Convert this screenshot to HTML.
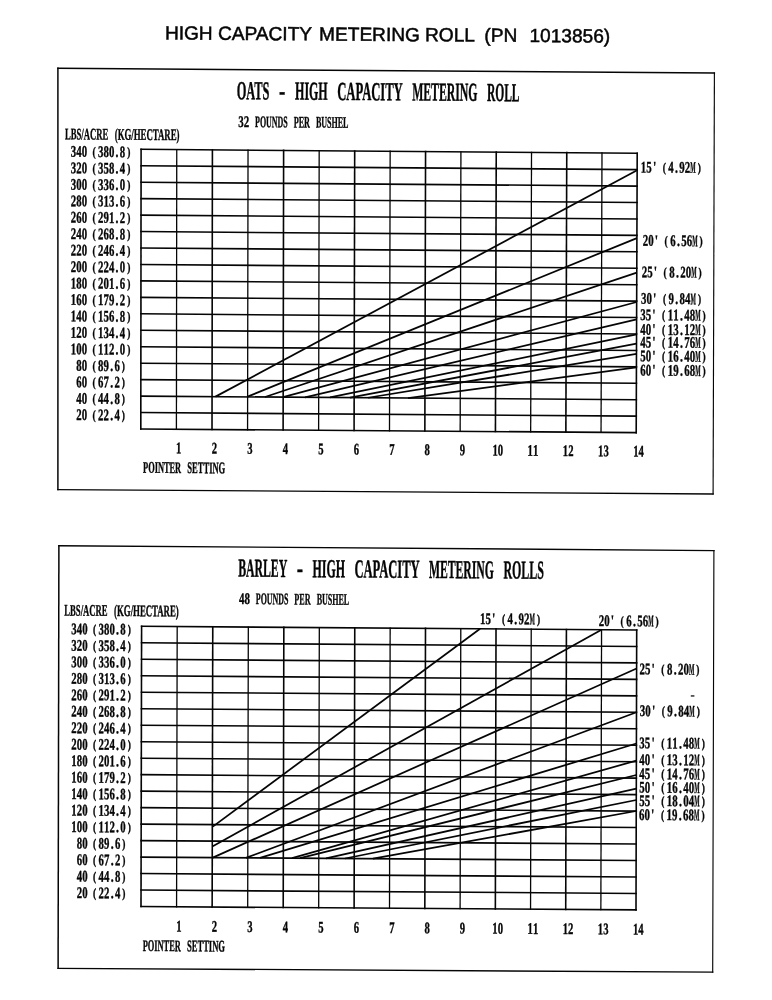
<!DOCTYPE html>
<html lang="en"><head><meta charset="utf-8"><title>High Capacity Metering Roll (PN 1013856)</title>
<style>html,body{margin:0;padding:0;background:#fff}body{width:772px;height:1000px;overflow:hidden}svg{display:block}text{white-space:pre}</style>
</head><body>
<svg width="772" height="1000" viewBox="0 0 772 1000">
<rect width="772" height="1000" fill="#fff"/>
<text transform="translate(164.90 39.40) rotate(0.413)" y="0" font-family='"Liberation Sans", sans-serif' font-size="19.1" fill="#050505" stroke="#050505" stroke-width="0.5" xml:space="preserve"><tspan x="0.00">HIGH </tspan><tspan x="53.10">CAPACITY </tspan><tspan x="154.20">METERING </tspan><tspan x="260.20">ROLL  </tspan><tspan x="319.40">(PN  </tspan><tspan x="364.60">1013856)</tspan></text>
<g stroke="#050505" fill="none" stroke-linecap="square" stroke-linejoin="miter">
<line x1="57.90" y1="68.25" x2="714.40" y2="73.05" stroke-width="1.40"/>
<line x1="714.40" y1="73.05" x2="713.10" y2="494.00" stroke-width="1.15"/>
<line x1="713.10" y1="494.00" x2="57.90" y2="489.60" stroke-width="1.30"/>
<line x1="57.90" y1="489.60" x2="57.90" y2="68.25" stroke-width="1.50"/>
<line x1="141.10" y1="149.30" x2="140.80" y2="429.00" stroke-width="1.60"/>
<line x1="176.76" y1="149.58" x2="176.41" y2="429.26" stroke-width="1.30"/>
<line x1="212.41" y1="149.86" x2="212.01" y2="429.51" stroke-width="1.60"/>
<line x1="248.03" y1="150.14" x2="247.58" y2="429.77" stroke-width="1.30"/>
<line x1="283.62" y1="150.41" x2="283.12" y2="430.03" stroke-width="1.60"/>
<line x1="319.18" y1="150.69" x2="318.63" y2="430.29" stroke-width="1.30"/>
<line x1="354.69" y1="150.97" x2="354.09" y2="430.54" stroke-width="1.60"/>
<line x1="390.15" y1="151.25" x2="389.50" y2="430.80" stroke-width="1.30"/>
<line x1="425.56" y1="151.53" x2="424.86" y2="431.06" stroke-width="1.60"/>
<line x1="460.92" y1="151.81" x2="460.17" y2="431.31" stroke-width="1.30"/>
<line x1="496.24" y1="152.09" x2="495.44" y2="431.57" stroke-width="1.60"/>
<line x1="531.52" y1="152.36" x2="530.67" y2="431.83" stroke-width="1.30"/>
<line x1="566.76" y1="152.64" x2="565.86" y2="432.09" stroke-width="1.60"/>
<line x1="601.99" y1="152.92" x2="601.04" y2="432.34" stroke-width="1.30"/>
<line x1="637.20" y1="153.20" x2="636.20" y2="432.60" stroke-width="1.60"/>
<line x1="140.80" y1="429.00" x2="636.20" y2="432.60" stroke-width="1.60"/>
<line x1="140.82" y1="412.55" x2="636.26" y2="416.16" stroke-width="1.60"/>
<line x1="140.84" y1="396.09" x2="636.32" y2="399.73" stroke-width="1.60"/>
<line x1="140.85" y1="379.64" x2="636.38" y2="383.29" stroke-width="1.60"/>
<line x1="140.87" y1="363.19" x2="636.44" y2="366.86" stroke-width="1.60"/>
<line x1="140.89" y1="346.74" x2="636.49" y2="350.42" stroke-width="1.60"/>
<line x1="140.91" y1="330.28" x2="636.55" y2="333.99" stroke-width="1.60"/>
<line x1="140.92" y1="313.83" x2="636.61" y2="317.55" stroke-width="1.60"/>
<line x1="140.94" y1="297.38" x2="636.67" y2="301.12" stroke-width="1.60"/>
<line x1="140.96" y1="280.92" x2="636.73" y2="284.68" stroke-width="1.60"/>
<line x1="140.98" y1="264.47" x2="636.79" y2="268.25" stroke-width="1.60"/>
<line x1="140.99" y1="248.02" x2="636.85" y2="251.81" stroke-width="1.60"/>
<line x1="141.01" y1="231.56" x2="636.91" y2="235.38" stroke-width="1.60"/>
<line x1="141.03" y1="215.11" x2="636.96" y2="218.94" stroke-width="1.60"/>
<line x1="141.05" y1="198.66" x2="637.02" y2="202.51" stroke-width="1.60"/>
<line x1="141.06" y1="182.21" x2="637.08" y2="186.07" stroke-width="1.60"/>
<line x1="141.08" y1="165.75" x2="637.14" y2="169.64" stroke-width="1.60"/>
<line x1="141.10" y1="149.30" x2="637.20" y2="153.20" stroke-width="1.60"/>
</g>
<g stroke="#050505" fill="none" stroke-linecap="butt">
<line x1="215.50" y1="396.64" x2="637.10" y2="170.30" stroke-width="1.75"/>
<line x1="247.00" y1="396.87" x2="636.90" y2="238.10" stroke-width="1.75"/>
<line x1="265.00" y1="397.01" x2="636.80" y2="272.60" stroke-width="1.75"/>
<line x1="283.00" y1="397.14" x2="636.70" y2="302.00" stroke-width="1.75"/>
<line x1="305.00" y1="397.30" x2="636.60" y2="319.40" stroke-width="1.75"/>
<line x1="330.00" y1="397.48" x2="636.60" y2="334.30" stroke-width="1.75"/>
<line x1="350.00" y1="397.63" x2="636.50" y2="343.70" stroke-width="1.75"/>
<line x1="368.00" y1="397.76" x2="636.50" y2="353.80" stroke-width="1.75"/>
<line x1="408.00" y1="398.05" x2="636.40" y2="367.30" stroke-width="1.75"/>
</g>
<g fill="#050505" stroke="#050505" stroke-width="0.38" stroke-linejoin="round" font-family='"Liberation Serif", serif'>
<g stroke-width="0.45">
<text transform="translate(236.30 99.20) rotate(0.413)" y="0" font-size="26.00" font-weight="bold"><tspan x="0.42" textLength="32.53" lengthAdjust="spacingAndGlyphs">OATS</tspan> <tspan x="42.75" textLength="6.23" lengthAdjust="spacingAndGlyphs">-</tspan> <tspan x="58.80" textLength="32.53" lengthAdjust="spacingAndGlyphs">HIGH</tspan> <tspan x="100.91" textLength="65.05" lengthAdjust="spacingAndGlyphs">CAPACITY</tspan> <tspan x="175.97" textLength="65.05" lengthAdjust="spacingAndGlyphs">METERING</tspan> <tspan x="250.62" textLength="32.53" lengthAdjust="spacingAndGlyphs">ROLL</tspan></text>
</g>
<text transform="translate(238.20 127.00) rotate(0.413)" y="0" font-size="16.20" font-weight="bold"><tspan x="0.11" textLength="10.84" lengthAdjust="spacingAndGlyphs">32</tspan> <tspan x="16.92" textLength="32.52" lengthAdjust="spacingAndGlyphs">POUNDS</tspan> <tspan x="55.47" textLength="16.26" lengthAdjust="spacingAndGlyphs">PER</tspan> <tspan x="77.75" textLength="32.52" lengthAdjust="spacingAndGlyphs">BUSHEL</tspan></text>
<text transform="translate(64.60 139.30) rotate(0.413)" y="0" font-size="16.20" font-weight="bold"><tspan x="0.44" textLength="43.12" lengthAdjust="spacingAndGlyphs">LBS/ACRE</tspan> <tspan x="50.16" textLength="64.68" lengthAdjust="spacingAndGlyphs">(KG/HECTARE)</tspan></text>
<text transform="translate(70.67 156.79) rotate(0.413) scale(0.720 1)" x="3.79 11.38 18.96 26.54 32.32 41.71 49.29 56.88 64.46 72.04 80.60" y="0" font-size="16.20" font-weight="bold" text-anchor="middle"><tspan textLength="7.43" lengthAdjust="spacingAndGlyphs">3</tspan><tspan textLength="7.43" lengthAdjust="spacingAndGlyphs">4</tspan><tspan textLength="7.43" lengthAdjust="spacingAndGlyphs">0</tspan> <tspan font-size="12.96" dy="-0.90">(</tspan><tspan dy="0.90" textLength="7.43" lengthAdjust="spacingAndGlyphs">3</tspan><tspan textLength="7.43" lengthAdjust="spacingAndGlyphs">8</tspan><tspan textLength="7.43" lengthAdjust="spacingAndGlyphs">0</tspan>.<tspan textLength="7.43" lengthAdjust="spacingAndGlyphs">8</tspan><tspan font-size="12.96" dy="-0.90">)</tspan></text>
<text transform="translate(70.67 173.25) rotate(0.413) scale(0.720 1)" x="3.79 11.38 18.96 26.54 32.32 41.71 49.29 56.88 64.46 72.04 80.60" y="0" font-size="16.20" font-weight="bold" text-anchor="middle"><tspan textLength="7.43" lengthAdjust="spacingAndGlyphs">3</tspan><tspan textLength="7.43" lengthAdjust="spacingAndGlyphs">2</tspan><tspan textLength="7.43" lengthAdjust="spacingAndGlyphs">0</tspan> <tspan font-size="12.96" dy="-0.90">(</tspan><tspan dy="0.90" textLength="7.43" lengthAdjust="spacingAndGlyphs">3</tspan><tspan textLength="7.43" lengthAdjust="spacingAndGlyphs">5</tspan><tspan textLength="7.43" lengthAdjust="spacingAndGlyphs">8</tspan>.<tspan textLength="7.43" lengthAdjust="spacingAndGlyphs">4</tspan><tspan font-size="12.96" dy="-0.90">)</tspan></text>
<text transform="translate(70.67 189.70) rotate(0.413) scale(0.720 1)" x="3.79 11.38 18.96 26.54 32.32 41.71 49.29 56.88 64.46 72.04 80.60" y="0" font-size="16.20" font-weight="bold" text-anchor="middle"><tspan textLength="7.43" lengthAdjust="spacingAndGlyphs">3</tspan><tspan textLength="7.43" lengthAdjust="spacingAndGlyphs">0</tspan><tspan textLength="7.43" lengthAdjust="spacingAndGlyphs">0</tspan> <tspan font-size="12.96" dy="-0.90">(</tspan><tspan dy="0.90" textLength="7.43" lengthAdjust="spacingAndGlyphs">3</tspan><tspan textLength="7.43" lengthAdjust="spacingAndGlyphs">3</tspan><tspan textLength="7.43" lengthAdjust="spacingAndGlyphs">6</tspan>.<tspan textLength="7.43" lengthAdjust="spacingAndGlyphs">0</tspan><tspan font-size="12.96" dy="-0.90">)</tspan></text>
<text transform="translate(70.67 206.15) rotate(0.413) scale(0.720 1)" x="3.79 11.38 18.96 26.54 32.32 41.71 49.29 56.88 64.46 72.04 80.60" y="0" font-size="16.20" font-weight="bold" text-anchor="middle"><tspan textLength="7.43" lengthAdjust="spacingAndGlyphs">2</tspan><tspan textLength="7.43" lengthAdjust="spacingAndGlyphs">8</tspan><tspan textLength="7.43" lengthAdjust="spacingAndGlyphs">0</tspan> <tspan font-size="12.96" dy="-0.90">(</tspan><tspan dy="0.90" textLength="7.43" lengthAdjust="spacingAndGlyphs">3</tspan><tspan textLength="7.43" lengthAdjust="spacingAndGlyphs">1</tspan><tspan textLength="7.43" lengthAdjust="spacingAndGlyphs">3</tspan>.<tspan textLength="7.43" lengthAdjust="spacingAndGlyphs">6</tspan><tspan font-size="12.96" dy="-0.90">)</tspan></text>
<text transform="translate(70.67 222.60) rotate(0.413) scale(0.720 1)" x="3.79 11.38 18.96 26.54 32.32 41.71 49.29 56.88 64.46 72.04 80.60" y="0" font-size="16.20" font-weight="bold" text-anchor="middle"><tspan textLength="7.43" lengthAdjust="spacingAndGlyphs">2</tspan><tspan textLength="7.43" lengthAdjust="spacingAndGlyphs">6</tspan><tspan textLength="7.43" lengthAdjust="spacingAndGlyphs">0</tspan> <tspan font-size="12.96" dy="-0.90">(</tspan><tspan dy="0.90" textLength="7.43" lengthAdjust="spacingAndGlyphs">2</tspan><tspan textLength="7.43" lengthAdjust="spacingAndGlyphs">9</tspan><tspan textLength="7.43" lengthAdjust="spacingAndGlyphs">1</tspan>.<tspan textLength="7.43" lengthAdjust="spacingAndGlyphs">2</tspan><tspan font-size="12.96" dy="-0.90">)</tspan></text>
<text transform="translate(70.67 239.06) rotate(0.413) scale(0.720 1)" x="3.79 11.38 18.96 26.54 32.32 41.71 49.29 56.88 64.46 72.04 80.60" y="0" font-size="16.20" font-weight="bold" text-anchor="middle"><tspan textLength="7.43" lengthAdjust="spacingAndGlyphs">2</tspan><tspan textLength="7.43" lengthAdjust="spacingAndGlyphs">4</tspan><tspan textLength="7.43" lengthAdjust="spacingAndGlyphs">0</tspan> <tspan font-size="12.96" dy="-0.90">(</tspan><tspan dy="0.90" textLength="7.43" lengthAdjust="spacingAndGlyphs">2</tspan><tspan textLength="7.43" lengthAdjust="spacingAndGlyphs">6</tspan><tspan textLength="7.43" lengthAdjust="spacingAndGlyphs">8</tspan>.<tspan textLength="7.43" lengthAdjust="spacingAndGlyphs">8</tspan><tspan font-size="12.96" dy="-0.90">)</tspan></text>
<text transform="translate(70.67 255.51) rotate(0.413) scale(0.720 1)" x="3.79 11.38 18.96 26.54 32.32 41.71 49.29 56.88 64.46 72.04 80.60" y="0" font-size="16.20" font-weight="bold" text-anchor="middle"><tspan textLength="7.43" lengthAdjust="spacingAndGlyphs">2</tspan><tspan textLength="7.43" lengthAdjust="spacingAndGlyphs">2</tspan><tspan textLength="7.43" lengthAdjust="spacingAndGlyphs">0</tspan> <tspan font-size="12.96" dy="-0.90">(</tspan><tspan dy="0.90" textLength="7.43" lengthAdjust="spacingAndGlyphs">2</tspan><tspan textLength="7.43" lengthAdjust="spacingAndGlyphs">4</tspan><tspan textLength="7.43" lengthAdjust="spacingAndGlyphs">6</tspan>.<tspan textLength="7.43" lengthAdjust="spacingAndGlyphs">4</tspan><tspan font-size="12.96" dy="-0.90">)</tspan></text>
<text transform="translate(70.67 271.96) rotate(0.413) scale(0.720 1)" x="3.79 11.38 18.96 26.54 32.32 41.71 49.29 56.88 64.46 72.04 80.60" y="0" font-size="16.20" font-weight="bold" text-anchor="middle"><tspan textLength="7.43" lengthAdjust="spacingAndGlyphs">2</tspan><tspan textLength="7.43" lengthAdjust="spacingAndGlyphs">0</tspan><tspan textLength="7.43" lengthAdjust="spacingAndGlyphs">0</tspan> <tspan font-size="12.96" dy="-0.90">(</tspan><tspan dy="0.90" textLength="7.43" lengthAdjust="spacingAndGlyphs">2</tspan><tspan textLength="7.43" lengthAdjust="spacingAndGlyphs">2</tspan><tspan textLength="7.43" lengthAdjust="spacingAndGlyphs">4</tspan>.<tspan textLength="7.43" lengthAdjust="spacingAndGlyphs">0</tspan><tspan font-size="12.96" dy="-0.90">)</tspan></text>
<text transform="translate(70.67 288.42) rotate(0.413) scale(0.720 1)" x="3.79 11.38 18.96 26.54 32.32 41.71 49.29 56.88 64.46 72.04 80.60" y="0" font-size="16.20" font-weight="bold" text-anchor="middle"><tspan textLength="7.43" lengthAdjust="spacingAndGlyphs">1</tspan><tspan textLength="7.43" lengthAdjust="spacingAndGlyphs">8</tspan><tspan textLength="7.43" lengthAdjust="spacingAndGlyphs">0</tspan> <tspan font-size="12.96" dy="-0.90">(</tspan><tspan dy="0.90" textLength="7.43" lengthAdjust="spacingAndGlyphs">2</tspan><tspan textLength="7.43" lengthAdjust="spacingAndGlyphs">0</tspan><tspan textLength="7.43" lengthAdjust="spacingAndGlyphs">1</tspan>.<tspan textLength="7.43" lengthAdjust="spacingAndGlyphs">6</tspan><tspan font-size="12.96" dy="-0.90">)</tspan></text>
<text transform="translate(70.67 304.87) rotate(0.413) scale(0.720 1)" x="3.79 11.38 18.96 26.54 32.32 41.71 49.29 56.88 64.46 72.04 80.60" y="0" font-size="16.20" font-weight="bold" text-anchor="middle"><tspan textLength="7.43" lengthAdjust="spacingAndGlyphs">1</tspan><tspan textLength="7.43" lengthAdjust="spacingAndGlyphs">6</tspan><tspan textLength="7.43" lengthAdjust="spacingAndGlyphs">0</tspan> <tspan font-size="12.96" dy="-0.90">(</tspan><tspan dy="0.90" textLength="7.43" lengthAdjust="spacingAndGlyphs">1</tspan><tspan textLength="7.43" lengthAdjust="spacingAndGlyphs">7</tspan><tspan textLength="7.43" lengthAdjust="spacingAndGlyphs">9</tspan>.<tspan textLength="7.43" lengthAdjust="spacingAndGlyphs">2</tspan><tspan font-size="12.96" dy="-0.90">)</tspan></text>
<text transform="translate(70.67 321.32) rotate(0.413) scale(0.720 1)" x="3.79 11.38 18.96 26.54 32.32 41.71 49.29 56.88 64.46 72.04 80.60" y="0" font-size="16.20" font-weight="bold" text-anchor="middle"><tspan textLength="7.43" lengthAdjust="spacingAndGlyphs">1</tspan><tspan textLength="7.43" lengthAdjust="spacingAndGlyphs">4</tspan><tspan textLength="7.43" lengthAdjust="spacingAndGlyphs">0</tspan> <tspan font-size="12.96" dy="-0.90">(</tspan><tspan dy="0.90" textLength="7.43" lengthAdjust="spacingAndGlyphs">1</tspan><tspan textLength="7.43" lengthAdjust="spacingAndGlyphs">5</tspan><tspan textLength="7.43" lengthAdjust="spacingAndGlyphs">6</tspan>.<tspan textLength="7.43" lengthAdjust="spacingAndGlyphs">8</tspan><tspan font-size="12.96" dy="-0.90">)</tspan></text>
<text transform="translate(70.67 337.78) rotate(0.413) scale(0.720 1)" x="3.79 11.38 18.96 26.54 32.32 41.71 49.29 56.88 64.46 72.04 80.60" y="0" font-size="16.20" font-weight="bold" text-anchor="middle"><tspan textLength="7.43" lengthAdjust="spacingAndGlyphs">1</tspan><tspan textLength="7.43" lengthAdjust="spacingAndGlyphs">2</tspan><tspan textLength="7.43" lengthAdjust="spacingAndGlyphs">0</tspan> <tspan font-size="12.96" dy="-0.90">(</tspan><tspan dy="0.90" textLength="7.43" lengthAdjust="spacingAndGlyphs">1</tspan><tspan textLength="7.43" lengthAdjust="spacingAndGlyphs">3</tspan><tspan textLength="7.43" lengthAdjust="spacingAndGlyphs">4</tspan>.<tspan textLength="7.43" lengthAdjust="spacingAndGlyphs">4</tspan><tspan font-size="12.96" dy="-0.90">)</tspan></text>
<text transform="translate(70.67 354.23) rotate(0.413) scale(0.720 1)" x="3.79 11.38 18.96 26.54 32.32 41.71 49.29 56.88 64.46 72.04 80.60" y="0" font-size="16.20" font-weight="bold" text-anchor="middle"><tspan textLength="7.43" lengthAdjust="spacingAndGlyphs">1</tspan><tspan textLength="7.43" lengthAdjust="spacingAndGlyphs">0</tspan><tspan textLength="7.43" lengthAdjust="spacingAndGlyphs">0</tspan> <tspan font-size="12.96" dy="-0.90">(</tspan><tspan dy="0.90" textLength="7.43" lengthAdjust="spacingAndGlyphs">1</tspan><tspan textLength="7.43" lengthAdjust="spacingAndGlyphs">1</tspan><tspan textLength="7.43" lengthAdjust="spacingAndGlyphs">2</tspan>.<tspan textLength="7.43" lengthAdjust="spacingAndGlyphs">0</tspan><tspan font-size="12.96" dy="-0.90">)</tspan></text>
<text transform="translate(76.13 370.72) rotate(0.413) scale(0.720 1)" x="3.79 11.38 18.96 24.74 34.12 41.71 49.29 56.88 65.43" y="0" font-size="16.20" font-weight="bold" text-anchor="middle"><tspan textLength="7.43" lengthAdjust="spacingAndGlyphs">8</tspan><tspan textLength="7.43" lengthAdjust="spacingAndGlyphs">0</tspan> <tspan font-size="12.96" dy="-0.90">(</tspan><tspan dy="0.90" textLength="7.43" lengthAdjust="spacingAndGlyphs">8</tspan><tspan textLength="7.43" lengthAdjust="spacingAndGlyphs">9</tspan>.<tspan textLength="7.43" lengthAdjust="spacingAndGlyphs">6</tspan><tspan font-size="12.96" dy="-0.90">)</tspan></text>
<text transform="translate(76.13 387.17) rotate(0.413) scale(0.720 1)" x="3.79 11.38 18.96 24.74 34.12 41.71 49.29 56.88 65.43" y="0" font-size="16.20" font-weight="bold" text-anchor="middle"><tspan textLength="7.43" lengthAdjust="spacingAndGlyphs">6</tspan><tspan textLength="7.43" lengthAdjust="spacingAndGlyphs">0</tspan> <tspan font-size="12.96" dy="-0.90">(</tspan><tspan dy="0.90" textLength="7.43" lengthAdjust="spacingAndGlyphs">6</tspan><tspan textLength="7.43" lengthAdjust="spacingAndGlyphs">7</tspan>.<tspan textLength="7.43" lengthAdjust="spacingAndGlyphs">2</tspan><tspan font-size="12.96" dy="-0.90">)</tspan></text>
<text transform="translate(76.13 403.63) rotate(0.413) scale(0.720 1)" x="3.79 11.38 18.96 24.74 34.12 41.71 49.29 56.88 65.43" y="0" font-size="16.20" font-weight="bold" text-anchor="middle"><tspan textLength="7.43" lengthAdjust="spacingAndGlyphs">4</tspan><tspan textLength="7.43" lengthAdjust="spacingAndGlyphs">0</tspan> <tspan font-size="12.96" dy="-0.90">(</tspan><tspan dy="0.90" textLength="7.43" lengthAdjust="spacingAndGlyphs">4</tspan><tspan textLength="7.43" lengthAdjust="spacingAndGlyphs">4</tspan>.<tspan textLength="7.43" lengthAdjust="spacingAndGlyphs">8</tspan><tspan font-size="12.96" dy="-0.90">)</tspan></text>
<text transform="translate(76.13 420.08) rotate(0.413) scale(0.720 1)" x="3.79 11.38 18.96 24.74 34.12 41.71 49.29 56.88 65.43" y="0" font-size="16.20" font-weight="bold" text-anchor="middle"><tspan textLength="7.43" lengthAdjust="spacingAndGlyphs">2</tspan><tspan textLength="7.43" lengthAdjust="spacingAndGlyphs">0</tspan> <tspan font-size="12.96" dy="-0.90">(</tspan><tspan dy="0.90" textLength="7.43" lengthAdjust="spacingAndGlyphs">2</tspan><tspan textLength="7.43" lengthAdjust="spacingAndGlyphs">2</tspan>.<tspan textLength="7.43" lengthAdjust="spacingAndGlyphs">4</tspan><tspan font-size="12.96" dy="-0.90">)</tspan></text>
<text transform="translate(176.01 453.14) rotate(0.413) scale(0.720 1)" x="3.75" y="0" font-size="16.20" font-weight="bold" text-anchor="middle"><tspan textLength="7.35" lengthAdjust="spacingAndGlyphs">1</tspan></text>
<text transform="translate(211.61 453.39) rotate(0.413) scale(0.720 1)" x="3.75" y="0" font-size="16.20" font-weight="bold" text-anchor="middle"><tspan textLength="7.35" lengthAdjust="spacingAndGlyphs">2</tspan></text>
<text transform="translate(247.18 453.65) rotate(0.413) scale(0.720 1)" x="3.75" y="0" font-size="16.20" font-weight="bold" text-anchor="middle"><tspan textLength="7.35" lengthAdjust="spacingAndGlyphs">3</tspan></text>
<text transform="translate(282.72 453.91) rotate(0.413) scale(0.720 1)" x="3.75" y="0" font-size="16.20" font-weight="bold" text-anchor="middle"><tspan textLength="7.35" lengthAdjust="spacingAndGlyphs">4</tspan></text>
<text transform="translate(318.23 454.17) rotate(0.413) scale(0.720 1)" x="3.75" y="0" font-size="16.20" font-weight="bold" text-anchor="middle"><tspan textLength="7.35" lengthAdjust="spacingAndGlyphs">5</tspan></text>
<text transform="translate(353.69 454.42) rotate(0.413) scale(0.720 1)" x="3.75" y="0" font-size="16.20" font-weight="bold" text-anchor="middle"><tspan textLength="7.35" lengthAdjust="spacingAndGlyphs">6</tspan></text>
<text transform="translate(389.10 454.68) rotate(0.413) scale(0.720 1)" x="3.75" y="0" font-size="16.20" font-weight="bold" text-anchor="middle"><tspan textLength="7.35" lengthAdjust="spacingAndGlyphs">7</tspan></text>
<text transform="translate(424.46 454.94) rotate(0.413) scale(0.720 1)" x="3.75" y="0" font-size="16.20" font-weight="bold" text-anchor="middle"><tspan textLength="7.35" lengthAdjust="spacingAndGlyphs">8</tspan></text>
<text transform="translate(459.77 455.19) rotate(0.413) scale(0.720 1)" x="3.75" y="0" font-size="16.20" font-weight="bold" text-anchor="middle"><tspan textLength="7.35" lengthAdjust="spacingAndGlyphs">9</tspan></text>
<text transform="translate(492.34 455.43) rotate(0.413) scale(0.720 1)" x="3.75 11.25" y="0" font-size="16.20" font-weight="bold" text-anchor="middle"><tspan textLength="7.35" lengthAdjust="spacingAndGlyphs">1</tspan><tspan textLength="7.35" lengthAdjust="spacingAndGlyphs">0</tspan></text>
<text transform="translate(527.57 455.69) rotate(0.413) scale(0.720 1)" x="3.75 11.25" y="0" font-size="16.20" font-weight="bold" text-anchor="middle"><tspan textLength="7.35" lengthAdjust="spacingAndGlyphs">1</tspan><tspan textLength="7.35" lengthAdjust="spacingAndGlyphs">1</tspan></text>
<text transform="translate(562.76 455.95) rotate(0.413) scale(0.720 1)" x="3.75 11.25" y="0" font-size="16.20" font-weight="bold" text-anchor="middle"><tspan textLength="7.35" lengthAdjust="spacingAndGlyphs">1</tspan><tspan textLength="7.35" lengthAdjust="spacingAndGlyphs">2</tspan></text>
<text transform="translate(597.94 456.20) rotate(0.413) scale(0.720 1)" x="3.75 11.25" y="0" font-size="16.20" font-weight="bold" text-anchor="middle"><tspan textLength="7.35" lengthAdjust="spacingAndGlyphs">1</tspan><tspan textLength="7.35" lengthAdjust="spacingAndGlyphs">3</tspan></text>
<text transform="translate(633.10 456.46) rotate(0.413) scale(0.720 1)" x="3.75 11.25" y="0" font-size="16.20" font-weight="bold" text-anchor="middle"><tspan textLength="7.35" lengthAdjust="spacingAndGlyphs">1</tspan><tspan textLength="7.35" lengthAdjust="spacingAndGlyphs">4</tspan></text>
<text transform="translate(142.70 472.70) rotate(0.413)" y="0" font-size="16.20" font-weight="bold"><tspan x="0.39" textLength="37.94" lengthAdjust="spacingAndGlyphs">POINTER</tspan> <tspan x="44.63" textLength="37.94" lengthAdjust="spacingAndGlyphs">SETTING</tspan></text>
<text transform="translate(640.80 172.40) rotate(0.413) scale(0.720 1)" x="3.82 11.46 19.10 26.74 32.57 42.01 49.65 57.29 64.93 72.57 81.18" y="0" font-size="16.20" font-weight="bold" text-anchor="middle"><tspan textLength="7.49" lengthAdjust="spacingAndGlyphs">1</tspan><tspan textLength="7.49" lengthAdjust="spacingAndGlyphs">5</tspan>' <tspan font-size="12.96" dy="-0.90">(</tspan><tspan dy="0.90" textLength="7.49" lengthAdjust="spacingAndGlyphs">4</tspan>.<tspan textLength="7.49" lengthAdjust="spacingAndGlyphs">9</tspan><tspan textLength="7.49" lengthAdjust="spacingAndGlyphs">2</tspan><tspan textLength="7.49" lengthAdjust="spacingAndGlyphs">M</tspan><tspan font-size="12.96" dy="-0.90">)</tspan></text>
<text transform="translate(642.60 245.80) rotate(0.413) scale(0.720 1)" x="3.82 11.46 19.10 26.74 32.57 42.01 49.65 57.29 64.93 72.57 81.18" y="0" font-size="16.20" font-weight="bold" text-anchor="middle"><tspan textLength="7.49" lengthAdjust="spacingAndGlyphs">2</tspan><tspan textLength="7.49" lengthAdjust="spacingAndGlyphs">0</tspan>' <tspan font-size="12.96" dy="-0.90">(</tspan><tspan dy="0.90" textLength="7.49" lengthAdjust="spacingAndGlyphs">6</tspan>.<tspan textLength="7.49" lengthAdjust="spacingAndGlyphs">5</tspan><tspan textLength="7.49" lengthAdjust="spacingAndGlyphs">6</tspan><tspan textLength="7.49" lengthAdjust="spacingAndGlyphs">M</tspan><tspan font-size="12.96" dy="-0.90">)</tspan></text>
<text transform="translate(641.60 277.20) rotate(0.413) scale(0.720 1)" x="3.82 11.46 19.10 26.74 32.57 42.01 49.65 57.29 64.93 72.57 81.18" y="0" font-size="16.20" font-weight="bold" text-anchor="middle"><tspan textLength="7.49" lengthAdjust="spacingAndGlyphs">2</tspan><tspan textLength="7.49" lengthAdjust="spacingAndGlyphs">5</tspan>' <tspan font-size="12.96" dy="-0.90">(</tspan><tspan dy="0.90" textLength="7.49" lengthAdjust="spacingAndGlyphs">8</tspan>.<tspan textLength="7.49" lengthAdjust="spacingAndGlyphs">2</tspan><tspan textLength="7.49" lengthAdjust="spacingAndGlyphs">0</tspan><tspan textLength="7.49" lengthAdjust="spacingAndGlyphs">M</tspan><tspan font-size="12.96" dy="-0.90">)</tspan></text>
<text transform="translate(641.00 303.80) rotate(0.413) scale(0.720 1)" x="3.82 11.46 19.10 26.74 32.57 42.01 49.65 57.29 64.93 72.57 81.18" y="0" font-size="16.20" font-weight="bold" text-anchor="middle"><tspan textLength="7.49" lengthAdjust="spacingAndGlyphs">3</tspan><tspan textLength="7.49" lengthAdjust="spacingAndGlyphs">0</tspan>' <tspan font-size="12.96" dy="-0.90">(</tspan><tspan dy="0.90" textLength="7.49" lengthAdjust="spacingAndGlyphs">9</tspan>.<tspan textLength="7.49" lengthAdjust="spacingAndGlyphs">8</tspan><tspan textLength="7.49" lengthAdjust="spacingAndGlyphs">4</tspan><tspan textLength="7.49" lengthAdjust="spacingAndGlyphs">M</tspan><tspan font-size="12.96" dy="-0.90">)</tspan></text>
<text transform="translate(640.20 320.10) rotate(0.413) scale(0.720 1)" x="3.82 11.46 19.10 26.74 32.57 42.01 49.65 57.29 64.93 72.57 80.21 88.82" y="0" font-size="16.20" font-weight="bold" text-anchor="middle"><tspan textLength="7.49" lengthAdjust="spacingAndGlyphs">3</tspan><tspan textLength="7.49" lengthAdjust="spacingAndGlyphs">5</tspan>' <tspan font-size="12.96" dy="-0.90">(</tspan><tspan dy="0.90" textLength="7.49" lengthAdjust="spacingAndGlyphs">1</tspan><tspan textLength="7.49" lengthAdjust="spacingAndGlyphs">1</tspan>.<tspan textLength="7.49" lengthAdjust="spacingAndGlyphs">4</tspan><tspan textLength="7.49" lengthAdjust="spacingAndGlyphs">8</tspan><tspan textLength="7.49" lengthAdjust="spacingAndGlyphs">M</tspan><tspan font-size="12.96" dy="-0.90">)</tspan></text>
<text transform="translate(640.20 334.70) rotate(0.413) scale(0.720 1)" x="3.82 11.46 19.10 26.74 32.57 42.01 49.65 57.29 64.93 72.57 80.21 88.82" y="0" font-size="16.20" font-weight="bold" text-anchor="middle"><tspan textLength="7.49" lengthAdjust="spacingAndGlyphs">4</tspan><tspan textLength="7.49" lengthAdjust="spacingAndGlyphs">0</tspan>' <tspan font-size="12.96" dy="-0.90">(</tspan><tspan dy="0.90" textLength="7.49" lengthAdjust="spacingAndGlyphs">1</tspan><tspan textLength="7.49" lengthAdjust="spacingAndGlyphs">3</tspan>.<tspan textLength="7.49" lengthAdjust="spacingAndGlyphs">1</tspan><tspan textLength="7.49" lengthAdjust="spacingAndGlyphs">2</tspan><tspan textLength="7.49" lengthAdjust="spacingAndGlyphs">M</tspan><tspan font-size="12.96" dy="-0.90">)</tspan></text>
<text transform="translate(640.20 347.40) rotate(0.413) scale(0.720 1)" x="3.82 11.46 19.10 26.74 32.57 42.01 49.65 57.29 64.93 72.57 80.21 88.82" y="0" font-size="16.20" font-weight="bold" text-anchor="middle"><tspan textLength="7.49" lengthAdjust="spacingAndGlyphs">4</tspan><tspan textLength="7.49" lengthAdjust="spacingAndGlyphs">5</tspan>' <tspan font-size="12.96" dy="-0.90">(</tspan><tspan dy="0.90" textLength="7.49" lengthAdjust="spacingAndGlyphs">1</tspan><tspan textLength="7.49" lengthAdjust="spacingAndGlyphs">4</tspan>.<tspan textLength="7.49" lengthAdjust="spacingAndGlyphs">7</tspan><tspan textLength="7.49" lengthAdjust="spacingAndGlyphs">6</tspan><tspan textLength="7.49" lengthAdjust="spacingAndGlyphs">M</tspan><tspan font-size="12.96" dy="-0.90">)</tspan></text>
<text transform="translate(640.20 361.30) rotate(0.413) scale(0.720 1)" x="3.82 11.46 19.10 26.74 32.57 42.01 49.65 57.29 64.93 72.57 80.21 88.82" y="0" font-size="16.20" font-weight="bold" text-anchor="middle"><tspan textLength="7.49" lengthAdjust="spacingAndGlyphs">5</tspan><tspan textLength="7.49" lengthAdjust="spacingAndGlyphs">0</tspan>' <tspan font-size="12.96" dy="-0.90">(</tspan><tspan dy="0.90" textLength="7.49" lengthAdjust="spacingAndGlyphs">1</tspan><tspan textLength="7.49" lengthAdjust="spacingAndGlyphs">6</tspan>.<tspan textLength="7.49" lengthAdjust="spacingAndGlyphs">4</tspan><tspan textLength="7.49" lengthAdjust="spacingAndGlyphs">0</tspan><tspan textLength="7.49" lengthAdjust="spacingAndGlyphs">M</tspan><tspan font-size="12.96" dy="-0.90">)</tspan></text>
<text transform="translate(640.20 375.50) rotate(0.413) scale(0.720 1)" x="3.82 11.46 19.10 26.74 32.57 42.01 49.65 57.29 64.93 72.57 80.21 88.82" y="0" font-size="16.20" font-weight="bold" text-anchor="middle"><tspan textLength="7.49" lengthAdjust="spacingAndGlyphs">6</tspan><tspan textLength="7.49" lengthAdjust="spacingAndGlyphs">0</tspan>' <tspan font-size="12.96" dy="-0.90">(</tspan><tspan dy="0.90" textLength="7.49" lengthAdjust="spacingAndGlyphs">1</tspan><tspan textLength="7.49" lengthAdjust="spacingAndGlyphs">9</tspan>.<tspan textLength="7.49" lengthAdjust="spacingAndGlyphs">6</tspan><tspan textLength="7.49" lengthAdjust="spacingAndGlyphs">8</tspan><tspan textLength="7.49" lengthAdjust="spacingAndGlyphs">M</tspan><tspan font-size="12.96" dy="-0.90">)</tspan></text>
</g>
<g stroke="#050505" fill="none" stroke-linecap="square" stroke-linejoin="miter">
<line x1="58.90" y1="545.70" x2="713.90" y2="550.60" stroke-width="1.40"/>
<line x1="713.90" y1="550.60" x2="712.70" y2="972.20" stroke-width="1.15"/>
<line x1="712.70" y1="972.20" x2="58.10" y2="968.30" stroke-width="1.30"/>
<line x1="58.10" y1="968.30" x2="58.90" y2="545.70" stroke-width="1.50"/>
<line x1="141.60" y1="626.30" x2="141.00" y2="906.55" stroke-width="1.60"/>
<line x1="177.19" y1="626.56" x2="176.58" y2="906.79" stroke-width="1.30"/>
<line x1="212.76" y1="626.82" x2="212.15" y2="907.03" stroke-width="1.60"/>
<line x1="248.32" y1="627.08" x2="247.69" y2="907.27" stroke-width="1.30"/>
<line x1="283.84" y1="627.34" x2="283.21" y2="907.51" stroke-width="1.60"/>
<line x1="319.32" y1="627.60" x2="318.69" y2="907.75" stroke-width="1.30"/>
<line x1="354.76" y1="627.86" x2="354.12" y2="907.99" stroke-width="1.60"/>
<line x1="390.15" y1="628.12" x2="389.50" y2="908.22" stroke-width="1.30"/>
<line x1="425.49" y1="628.39" x2="424.83" y2="908.46" stroke-width="1.60"/>
<line x1="460.78" y1="628.65" x2="460.12" y2="908.70" stroke-width="1.30"/>
<line x1="496.02" y1="628.91" x2="495.35" y2="908.94" stroke-width="1.60"/>
<line x1="531.23" y1="629.17" x2="530.55" y2="909.18" stroke-width="1.30"/>
<line x1="566.41" y1="629.43" x2="565.72" y2="909.42" stroke-width="1.60"/>
<line x1="601.56" y1="629.69" x2="600.87" y2="909.66" stroke-width="1.30"/>
<line x1="636.70" y1="629.95" x2="636.00" y2="909.90" stroke-width="1.60"/>
<line x1="141.00" y1="906.55" x2="636.00" y2="909.90" stroke-width="1.60"/>
<line x1="141.04" y1="890.06" x2="636.04" y2="893.43" stroke-width="1.60"/>
<line x1="141.07" y1="873.58" x2="636.08" y2="876.96" stroke-width="1.60"/>
<line x1="141.11" y1="857.09" x2="636.12" y2="860.50" stroke-width="1.60"/>
<line x1="141.14" y1="840.61" x2="636.16" y2="844.03" stroke-width="1.60"/>
<line x1="141.18" y1="824.12" x2="636.21" y2="827.56" stroke-width="1.60"/>
<line x1="141.21" y1="807.64" x2="636.25" y2="811.09" stroke-width="1.60"/>
<line x1="141.25" y1="791.15" x2="636.29" y2="794.63" stroke-width="1.60"/>
<line x1="141.28" y1="774.67" x2="636.33" y2="778.16" stroke-width="1.60"/>
<line x1="141.32" y1="758.18" x2="636.37" y2="761.69" stroke-width="1.60"/>
<line x1="141.35" y1="741.70" x2="636.41" y2="745.22" stroke-width="1.60"/>
<line x1="141.39" y1="725.21" x2="636.45" y2="728.76" stroke-width="1.60"/>
<line x1="141.42" y1="708.73" x2="636.49" y2="712.29" stroke-width="1.60"/>
<line x1="141.46" y1="692.24" x2="636.54" y2="695.82" stroke-width="1.60"/>
<line x1="141.49" y1="675.76" x2="636.58" y2="679.35" stroke-width="1.60"/>
<line x1="141.53" y1="659.27" x2="636.62" y2="662.89" stroke-width="1.60"/>
<line x1="141.56" y1="642.79" x2="636.66" y2="646.42" stroke-width="1.60"/>
<line x1="141.60" y1="626.30" x2="636.70" y2="629.95" stroke-width="1.60"/>
</g>
<g stroke="#050505" fill="none" stroke-linecap="butt">
<line x1="212.80" y1="826.60" x2="480.10" y2="628.80" stroke-width="1.75"/>
<line x1="212.80" y1="846.30" x2="601.50" y2="629.70" stroke-width="1.75"/>
<line x1="212.80" y1="857.59" x2="636.60" y2="668.50" stroke-width="1.75"/>
<line x1="246.00" y1="857.82" x2="636.50" y2="712.20" stroke-width="1.75"/>
<line x1="260.00" y1="857.91" x2="636.40" y2="743.50" stroke-width="1.75"/>
<line x1="292.00" y1="858.13" x2="636.40" y2="760.60" stroke-width="1.75"/>
<line x1="300.00" y1="858.19" x2="636.30" y2="775.00" stroke-width="1.75"/>
<line x1="326.00" y1="858.37" x2="636.30" y2="788.60" stroke-width="1.75"/>
<line x1="345.00" y1="858.50" x2="636.30" y2="800.00" stroke-width="1.75"/>
<line x1="373.00" y1="858.69" x2="636.30" y2="811.00" stroke-width="1.75"/>
</g>
<g fill="#050505" stroke="#050505" stroke-width="0.38" stroke-linejoin="round" font-family='"Liberation Serif", serif'>
<g stroke-width="0.45">
<text transform="translate(237.60 576.60) rotate(0.413)" y="0" font-size="26.00" font-weight="bold"><tspan x="0.62" textLength="48.50" lengthAdjust="spacingAndGlyphs">BARLEY</tspan> <tspan x="59.06" textLength="6.23" lengthAdjust="spacingAndGlyphs">-</tspan> <tspan x="75.02" textLength="32.33" lengthAdjust="spacingAndGlyphs">HIGH</tspan> <tspan x="116.89" textLength="64.66" lengthAdjust="spacingAndGlyphs">CAPACITY</tspan> <tspan x="191.50" textLength="64.66" lengthAdjust="spacingAndGlyphs">METERING</tspan> <tspan x="265.80" textLength="40.41" lengthAdjust="spacingAndGlyphs">ROLLS</tspan></text>
</g>
<text transform="translate(238.90 604.00) rotate(0.413)" y="0" font-size="16.20" font-weight="bold"><tspan x="0.11" textLength="10.84" lengthAdjust="spacingAndGlyphs">48</tspan> <tspan x="16.92" textLength="32.52" lengthAdjust="spacingAndGlyphs">POUNDS</tspan> <tspan x="55.47" textLength="16.26" lengthAdjust="spacingAndGlyphs">PER</tspan> <tspan x="77.75" textLength="32.52" lengthAdjust="spacingAndGlyphs">BUSHEL</tspan></text>
<text transform="translate(63.90 615.60) rotate(0.413)" y="0" font-size="16.20" font-weight="bold"><tspan x="0.44" textLength="43.12" lengthAdjust="spacingAndGlyphs">LBS/ACRE</tspan> <tspan x="50.16" textLength="64.68" lengthAdjust="spacingAndGlyphs">(KG/HECTARE)</tspan></text>
<text transform="translate(71.17 634.19) rotate(0.413) scale(0.720 1)" x="3.79 11.38 18.96 26.54 32.32 41.71 49.29 56.88 64.46 72.04 80.60" y="0" font-size="16.20" font-weight="bold" text-anchor="middle"><tspan textLength="7.43" lengthAdjust="spacingAndGlyphs">3</tspan><tspan textLength="7.43" lengthAdjust="spacingAndGlyphs">4</tspan><tspan textLength="7.43" lengthAdjust="spacingAndGlyphs">0</tspan> <tspan font-size="12.96" dy="-0.90">(</tspan><tspan dy="0.90" textLength="7.43" lengthAdjust="spacingAndGlyphs">3</tspan><tspan textLength="7.43" lengthAdjust="spacingAndGlyphs">8</tspan><tspan textLength="7.43" lengthAdjust="spacingAndGlyphs">0</tspan>.<tspan textLength="7.43" lengthAdjust="spacingAndGlyphs">8</tspan><tspan font-size="12.96" dy="-0.90">)</tspan></text>
<text transform="translate(71.17 650.68) rotate(0.413) scale(0.720 1)" x="3.79 11.38 18.96 26.54 32.32 41.71 49.29 56.88 64.46 72.04 80.60" y="0" font-size="16.20" font-weight="bold" text-anchor="middle"><tspan textLength="7.43" lengthAdjust="spacingAndGlyphs">3</tspan><tspan textLength="7.43" lengthAdjust="spacingAndGlyphs">2</tspan><tspan textLength="7.43" lengthAdjust="spacingAndGlyphs">0</tspan> <tspan font-size="12.96" dy="-0.90">(</tspan><tspan dy="0.90" textLength="7.43" lengthAdjust="spacingAndGlyphs">3</tspan><tspan textLength="7.43" lengthAdjust="spacingAndGlyphs">5</tspan><tspan textLength="7.43" lengthAdjust="spacingAndGlyphs">8</tspan>.<tspan textLength="7.43" lengthAdjust="spacingAndGlyphs">4</tspan><tspan font-size="12.96" dy="-0.90">)</tspan></text>
<text transform="translate(71.17 667.16) rotate(0.413) scale(0.720 1)" x="3.79 11.38 18.96 26.54 32.32 41.71 49.29 56.88 64.46 72.04 80.60" y="0" font-size="16.20" font-weight="bold" text-anchor="middle"><tspan textLength="7.43" lengthAdjust="spacingAndGlyphs">3</tspan><tspan textLength="7.43" lengthAdjust="spacingAndGlyphs">0</tspan><tspan textLength="7.43" lengthAdjust="spacingAndGlyphs">0</tspan> <tspan font-size="12.96" dy="-0.90">(</tspan><tspan dy="0.90" textLength="7.43" lengthAdjust="spacingAndGlyphs">3</tspan><tspan textLength="7.43" lengthAdjust="spacingAndGlyphs">3</tspan><tspan textLength="7.43" lengthAdjust="spacingAndGlyphs">6</tspan>.<tspan textLength="7.43" lengthAdjust="spacingAndGlyphs">0</tspan><tspan font-size="12.96" dy="-0.90">)</tspan></text>
<text transform="translate(71.17 683.65) rotate(0.413) scale(0.720 1)" x="3.79 11.38 18.96 26.54 32.32 41.71 49.29 56.88 64.46 72.04 80.60" y="0" font-size="16.20" font-weight="bold" text-anchor="middle"><tspan textLength="7.43" lengthAdjust="spacingAndGlyphs">2</tspan><tspan textLength="7.43" lengthAdjust="spacingAndGlyphs">8</tspan><tspan textLength="7.43" lengthAdjust="spacingAndGlyphs">0</tspan> <tspan font-size="12.96" dy="-0.90">(</tspan><tspan dy="0.90" textLength="7.43" lengthAdjust="spacingAndGlyphs">3</tspan><tspan textLength="7.43" lengthAdjust="spacingAndGlyphs">1</tspan><tspan textLength="7.43" lengthAdjust="spacingAndGlyphs">3</tspan>.<tspan textLength="7.43" lengthAdjust="spacingAndGlyphs">6</tspan><tspan font-size="12.96" dy="-0.90">)</tspan></text>
<text transform="translate(71.17 700.13) rotate(0.413) scale(0.720 1)" x="3.79 11.38 18.96 26.54 32.32 41.71 49.29 56.88 64.46 72.04 80.60" y="0" font-size="16.20" font-weight="bold" text-anchor="middle"><tspan textLength="7.43" lengthAdjust="spacingAndGlyphs">2</tspan><tspan textLength="7.43" lengthAdjust="spacingAndGlyphs">6</tspan><tspan textLength="7.43" lengthAdjust="spacingAndGlyphs">0</tspan> <tspan font-size="12.96" dy="-0.90">(</tspan><tspan dy="0.90" textLength="7.43" lengthAdjust="spacingAndGlyphs">2</tspan><tspan textLength="7.43" lengthAdjust="spacingAndGlyphs">9</tspan><tspan textLength="7.43" lengthAdjust="spacingAndGlyphs">1</tspan>.<tspan textLength="7.43" lengthAdjust="spacingAndGlyphs">2</tspan><tspan font-size="12.96" dy="-0.90">)</tspan></text>
<text transform="translate(71.17 716.62) rotate(0.413) scale(0.720 1)" x="3.79 11.38 18.96 26.54 32.32 41.71 49.29 56.88 64.46 72.04 80.60" y="0" font-size="16.20" font-weight="bold" text-anchor="middle"><tspan textLength="7.43" lengthAdjust="spacingAndGlyphs">2</tspan><tspan textLength="7.43" lengthAdjust="spacingAndGlyphs">4</tspan><tspan textLength="7.43" lengthAdjust="spacingAndGlyphs">0</tspan> <tspan font-size="12.96" dy="-0.90">(</tspan><tspan dy="0.90" textLength="7.43" lengthAdjust="spacingAndGlyphs">2</tspan><tspan textLength="7.43" lengthAdjust="spacingAndGlyphs">6</tspan><tspan textLength="7.43" lengthAdjust="spacingAndGlyphs">8</tspan>.<tspan textLength="7.43" lengthAdjust="spacingAndGlyphs">8</tspan><tspan font-size="12.96" dy="-0.90">)</tspan></text>
<text transform="translate(71.17 733.10) rotate(0.413) scale(0.720 1)" x="3.79 11.38 18.96 26.54 32.32 41.71 49.29 56.88 64.46 72.04 80.60" y="0" font-size="16.20" font-weight="bold" text-anchor="middle"><tspan textLength="7.43" lengthAdjust="spacingAndGlyphs">2</tspan><tspan textLength="7.43" lengthAdjust="spacingAndGlyphs">2</tspan><tspan textLength="7.43" lengthAdjust="spacingAndGlyphs">0</tspan> <tspan font-size="12.96" dy="-0.90">(</tspan><tspan dy="0.90" textLength="7.43" lengthAdjust="spacingAndGlyphs">2</tspan><tspan textLength="7.43" lengthAdjust="spacingAndGlyphs">4</tspan><tspan textLength="7.43" lengthAdjust="spacingAndGlyphs">6</tspan>.<tspan textLength="7.43" lengthAdjust="spacingAndGlyphs">4</tspan><tspan font-size="12.96" dy="-0.90">)</tspan></text>
<text transform="translate(71.17 749.59) rotate(0.413) scale(0.720 1)" x="3.79 11.38 18.96 26.54 32.32 41.71 49.29 56.88 64.46 72.04 80.60" y="0" font-size="16.20" font-weight="bold" text-anchor="middle"><tspan textLength="7.43" lengthAdjust="spacingAndGlyphs">2</tspan><tspan textLength="7.43" lengthAdjust="spacingAndGlyphs">0</tspan><tspan textLength="7.43" lengthAdjust="spacingAndGlyphs">0</tspan> <tspan font-size="12.96" dy="-0.90">(</tspan><tspan dy="0.90" textLength="7.43" lengthAdjust="spacingAndGlyphs">2</tspan><tspan textLength="7.43" lengthAdjust="spacingAndGlyphs">2</tspan><tspan textLength="7.43" lengthAdjust="spacingAndGlyphs">4</tspan>.<tspan textLength="7.43" lengthAdjust="spacingAndGlyphs">0</tspan><tspan font-size="12.96" dy="-0.90">)</tspan></text>
<text transform="translate(71.17 766.08) rotate(0.413) scale(0.720 1)" x="3.79 11.38 18.96 26.54 32.32 41.71 49.29 56.88 64.46 72.04 80.60" y="0" font-size="16.20" font-weight="bold" text-anchor="middle"><tspan textLength="7.43" lengthAdjust="spacingAndGlyphs">1</tspan><tspan textLength="7.43" lengthAdjust="spacingAndGlyphs">8</tspan><tspan textLength="7.43" lengthAdjust="spacingAndGlyphs">0</tspan> <tspan font-size="12.96" dy="-0.90">(</tspan><tspan dy="0.90" textLength="7.43" lengthAdjust="spacingAndGlyphs">2</tspan><tspan textLength="7.43" lengthAdjust="spacingAndGlyphs">0</tspan><tspan textLength="7.43" lengthAdjust="spacingAndGlyphs">1</tspan>.<tspan textLength="7.43" lengthAdjust="spacingAndGlyphs">6</tspan><tspan font-size="12.96" dy="-0.90">)</tspan></text>
<text transform="translate(71.17 782.56) rotate(0.413) scale(0.720 1)" x="3.79 11.38 18.96 26.54 32.32 41.71 49.29 56.88 64.46 72.04 80.60" y="0" font-size="16.20" font-weight="bold" text-anchor="middle"><tspan textLength="7.43" lengthAdjust="spacingAndGlyphs">1</tspan><tspan textLength="7.43" lengthAdjust="spacingAndGlyphs">6</tspan><tspan textLength="7.43" lengthAdjust="spacingAndGlyphs">0</tspan> <tspan font-size="12.96" dy="-0.90">(</tspan><tspan dy="0.90" textLength="7.43" lengthAdjust="spacingAndGlyphs">1</tspan><tspan textLength="7.43" lengthAdjust="spacingAndGlyphs">7</tspan><tspan textLength="7.43" lengthAdjust="spacingAndGlyphs">9</tspan>.<tspan textLength="7.43" lengthAdjust="spacingAndGlyphs">2</tspan><tspan font-size="12.96" dy="-0.90">)</tspan></text>
<text transform="translate(71.17 799.05) rotate(0.413) scale(0.720 1)" x="3.79 11.38 18.96 26.54 32.32 41.71 49.29 56.88 64.46 72.04 80.60" y="0" font-size="16.20" font-weight="bold" text-anchor="middle"><tspan textLength="7.43" lengthAdjust="spacingAndGlyphs">1</tspan><tspan textLength="7.43" lengthAdjust="spacingAndGlyphs">4</tspan><tspan textLength="7.43" lengthAdjust="spacingAndGlyphs">0</tspan> <tspan font-size="12.96" dy="-0.90">(</tspan><tspan dy="0.90" textLength="7.43" lengthAdjust="spacingAndGlyphs">1</tspan><tspan textLength="7.43" lengthAdjust="spacingAndGlyphs">5</tspan><tspan textLength="7.43" lengthAdjust="spacingAndGlyphs">6</tspan>.<tspan textLength="7.43" lengthAdjust="spacingAndGlyphs">8</tspan><tspan font-size="12.96" dy="-0.90">)</tspan></text>
<text transform="translate(71.17 815.53) rotate(0.413) scale(0.720 1)" x="3.79 11.38 18.96 26.54 32.32 41.71 49.29 56.88 64.46 72.04 80.60" y="0" font-size="16.20" font-weight="bold" text-anchor="middle"><tspan textLength="7.43" lengthAdjust="spacingAndGlyphs">1</tspan><tspan textLength="7.43" lengthAdjust="spacingAndGlyphs">2</tspan><tspan textLength="7.43" lengthAdjust="spacingAndGlyphs">0</tspan> <tspan font-size="12.96" dy="-0.90">(</tspan><tspan dy="0.90" textLength="7.43" lengthAdjust="spacingAndGlyphs">1</tspan><tspan textLength="7.43" lengthAdjust="spacingAndGlyphs">3</tspan><tspan textLength="7.43" lengthAdjust="spacingAndGlyphs">4</tspan>.<tspan textLength="7.43" lengthAdjust="spacingAndGlyphs">4</tspan><tspan font-size="12.96" dy="-0.90">)</tspan></text>
<text transform="translate(71.17 832.02) rotate(0.413) scale(0.720 1)" x="3.79 11.38 18.96 26.54 32.32 41.71 49.29 56.88 64.46 72.04 80.60" y="0" font-size="16.20" font-weight="bold" text-anchor="middle"><tspan textLength="7.43" lengthAdjust="spacingAndGlyphs">1</tspan><tspan textLength="7.43" lengthAdjust="spacingAndGlyphs">0</tspan><tspan textLength="7.43" lengthAdjust="spacingAndGlyphs">0</tspan> <tspan font-size="12.96" dy="-0.90">(</tspan><tspan dy="0.90" textLength="7.43" lengthAdjust="spacingAndGlyphs">1</tspan><tspan textLength="7.43" lengthAdjust="spacingAndGlyphs">1</tspan><tspan textLength="7.43" lengthAdjust="spacingAndGlyphs">2</tspan>.<tspan textLength="7.43" lengthAdjust="spacingAndGlyphs">0</tspan><tspan font-size="12.96" dy="-0.90">)</tspan></text>
<text transform="translate(76.63 848.54) rotate(0.413) scale(0.720 1)" x="3.79 11.38 18.96 24.74 34.12 41.71 49.29 56.88 65.43" y="0" font-size="16.20" font-weight="bold" text-anchor="middle"><tspan textLength="7.43" lengthAdjust="spacingAndGlyphs">8</tspan><tspan textLength="7.43" lengthAdjust="spacingAndGlyphs">0</tspan> <tspan font-size="12.96" dy="-0.90">(</tspan><tspan dy="0.90" textLength="7.43" lengthAdjust="spacingAndGlyphs">8</tspan><tspan textLength="7.43" lengthAdjust="spacingAndGlyphs">9</tspan>.<tspan textLength="7.43" lengthAdjust="spacingAndGlyphs">6</tspan><tspan font-size="12.96" dy="-0.90">)</tspan></text>
<text transform="translate(76.63 865.03) rotate(0.413) scale(0.720 1)" x="3.79 11.38 18.96 24.74 34.12 41.71 49.29 56.88 65.43" y="0" font-size="16.20" font-weight="bold" text-anchor="middle"><tspan textLength="7.43" lengthAdjust="spacingAndGlyphs">6</tspan><tspan textLength="7.43" lengthAdjust="spacingAndGlyphs">0</tspan> <tspan font-size="12.96" dy="-0.90">(</tspan><tspan dy="0.90" textLength="7.43" lengthAdjust="spacingAndGlyphs">6</tspan><tspan textLength="7.43" lengthAdjust="spacingAndGlyphs">7</tspan>.<tspan textLength="7.43" lengthAdjust="spacingAndGlyphs">2</tspan><tspan font-size="12.96" dy="-0.90">)</tspan></text>
<text transform="translate(76.63 881.51) rotate(0.413) scale(0.720 1)" x="3.79 11.38 18.96 24.74 34.12 41.71 49.29 56.88 65.43" y="0" font-size="16.20" font-weight="bold" text-anchor="middle"><tspan textLength="7.43" lengthAdjust="spacingAndGlyphs">4</tspan><tspan textLength="7.43" lengthAdjust="spacingAndGlyphs">0</tspan> <tspan font-size="12.96" dy="-0.90">(</tspan><tspan dy="0.90" textLength="7.43" lengthAdjust="spacingAndGlyphs">4</tspan><tspan textLength="7.43" lengthAdjust="spacingAndGlyphs">4</tspan>.<tspan textLength="7.43" lengthAdjust="spacingAndGlyphs">8</tspan><tspan font-size="12.96" dy="-0.90">)</tspan></text>
<text transform="translate(76.63 898.00) rotate(0.413) scale(0.720 1)" x="3.79 11.38 18.96 24.74 34.12 41.71 49.29 56.88 65.43" y="0" font-size="16.20" font-weight="bold" text-anchor="middle"><tspan textLength="7.43" lengthAdjust="spacingAndGlyphs">2</tspan><tspan textLength="7.43" lengthAdjust="spacingAndGlyphs">0</tspan> <tspan font-size="12.96" dy="-0.90">(</tspan><tspan dy="0.90" textLength="7.43" lengthAdjust="spacingAndGlyphs">2</tspan><tspan textLength="7.43" lengthAdjust="spacingAndGlyphs">2</tspan>.<tspan textLength="7.43" lengthAdjust="spacingAndGlyphs">4</tspan><tspan font-size="12.96" dy="-0.90">)</tspan></text>
<text transform="translate(176.18 931.47) rotate(0.413) scale(0.720 1)" x="3.75" y="0" font-size="16.20" font-weight="bold" text-anchor="middle"><tspan textLength="7.35" lengthAdjust="spacingAndGlyphs">1</tspan></text>
<text transform="translate(211.75 931.71) rotate(0.413) scale(0.720 1)" x="3.75" y="0" font-size="16.20" font-weight="bold" text-anchor="middle"><tspan textLength="7.35" lengthAdjust="spacingAndGlyphs">2</tspan></text>
<text transform="translate(247.29 931.95) rotate(0.413) scale(0.720 1)" x="3.75" y="0" font-size="16.20" font-weight="bold" text-anchor="middle"><tspan textLength="7.35" lengthAdjust="spacingAndGlyphs">3</tspan></text>
<text transform="translate(282.81 932.19) rotate(0.413) scale(0.720 1)" x="3.75" y="0" font-size="16.20" font-weight="bold" text-anchor="middle"><tspan textLength="7.35" lengthAdjust="spacingAndGlyphs">4</tspan></text>
<text transform="translate(318.29 932.43) rotate(0.413) scale(0.720 1)" x="3.75" y="0" font-size="16.20" font-weight="bold" text-anchor="middle"><tspan textLength="7.35" lengthAdjust="spacingAndGlyphs">5</tspan></text>
<text transform="translate(353.72 932.67) rotate(0.413) scale(0.720 1)" x="3.75" y="0" font-size="16.20" font-weight="bold" text-anchor="middle"><tspan textLength="7.35" lengthAdjust="spacingAndGlyphs">6</tspan></text>
<text transform="translate(389.10 932.91) rotate(0.413) scale(0.720 1)" x="3.75" y="0" font-size="16.20" font-weight="bold" text-anchor="middle"><tspan textLength="7.35" lengthAdjust="spacingAndGlyphs">7</tspan></text>
<text transform="translate(424.43 933.14) rotate(0.413) scale(0.720 1)" x="3.75" y="0" font-size="16.20" font-weight="bold" text-anchor="middle"><tspan textLength="7.35" lengthAdjust="spacingAndGlyphs">8</tspan></text>
<text transform="translate(459.72 933.38) rotate(0.413) scale(0.720 1)" x="3.75" y="0" font-size="16.20" font-weight="bold" text-anchor="middle"><tspan textLength="7.35" lengthAdjust="spacingAndGlyphs">9</tspan></text>
<text transform="translate(492.25 933.60) rotate(0.413) scale(0.720 1)" x="3.75 11.25" y="0" font-size="16.20" font-weight="bold" text-anchor="middle"><tspan textLength="7.35" lengthAdjust="spacingAndGlyphs">1</tspan><tspan textLength="7.35" lengthAdjust="spacingAndGlyphs">0</tspan></text>
<text transform="translate(527.45 933.84) rotate(0.413) scale(0.720 1)" x="3.75 11.25" y="0" font-size="16.20" font-weight="bold" text-anchor="middle"><tspan textLength="7.35" lengthAdjust="spacingAndGlyphs">1</tspan><tspan textLength="7.35" lengthAdjust="spacingAndGlyphs">1</tspan></text>
<text transform="translate(562.62 934.08) rotate(0.413) scale(0.720 1)" x="3.75 11.25" y="0" font-size="16.20" font-weight="bold" text-anchor="middle"><tspan textLength="7.35" lengthAdjust="spacingAndGlyphs">1</tspan><tspan textLength="7.35" lengthAdjust="spacingAndGlyphs">2</tspan></text>
<text transform="translate(597.77 934.32) rotate(0.413) scale(0.720 1)" x="3.75 11.25" y="0" font-size="16.20" font-weight="bold" text-anchor="middle"><tspan textLength="7.35" lengthAdjust="spacingAndGlyphs">1</tspan><tspan textLength="7.35" lengthAdjust="spacingAndGlyphs">3</tspan></text>
<text transform="translate(632.90 934.56) rotate(0.413) scale(0.720 1)" x="3.75 11.25" y="0" font-size="16.20" font-weight="bold" text-anchor="middle"><tspan textLength="7.35" lengthAdjust="spacingAndGlyphs">1</tspan><tspan textLength="7.35" lengthAdjust="spacingAndGlyphs">4</tspan></text>
<text transform="translate(142.40 950.90) rotate(0.413)" y="0" font-size="16.20" font-weight="bold"><tspan x="0.39" textLength="37.94" lengthAdjust="spacingAndGlyphs">POINTER</tspan> <tspan x="44.63" textLength="37.94" lengthAdjust="spacingAndGlyphs">SETTING</tspan></text>
<text transform="translate(480.00 623.90) rotate(0.413) scale(0.720 1)" x="3.82 11.46 19.10 26.74 32.57 42.01 49.65 57.29 64.93 72.57 81.18" y="0" font-size="16.20" font-weight="bold" text-anchor="middle"><tspan textLength="7.49" lengthAdjust="spacingAndGlyphs">1</tspan><tspan textLength="7.49" lengthAdjust="spacingAndGlyphs">5</tspan>' <tspan font-size="12.96" dy="-0.90">(</tspan><tspan dy="0.90" textLength="7.49" lengthAdjust="spacingAndGlyphs">4</tspan>.<tspan textLength="7.49" lengthAdjust="spacingAndGlyphs">9</tspan><tspan textLength="7.49" lengthAdjust="spacingAndGlyphs">2</tspan><tspan textLength="7.49" lengthAdjust="spacingAndGlyphs">M</tspan><tspan font-size="12.96" dy="-0.90">)</tspan></text>
<text transform="translate(598.60 626.00) rotate(0.413) scale(0.720 1)" x="3.82 11.46 19.10 26.74 32.57 42.01 49.65 57.29 64.93 72.57 81.18" y="0" font-size="16.20" font-weight="bold" text-anchor="middle"><tspan textLength="7.49" lengthAdjust="spacingAndGlyphs">2</tspan><tspan textLength="7.49" lengthAdjust="spacingAndGlyphs">0</tspan>' <tspan font-size="12.96" dy="-0.90">(</tspan><tspan dy="0.90" textLength="7.49" lengthAdjust="spacingAndGlyphs">6</tspan>.<tspan textLength="7.49" lengthAdjust="spacingAndGlyphs">5</tspan><tspan textLength="7.49" lengthAdjust="spacingAndGlyphs">6</tspan><tspan textLength="7.49" lengthAdjust="spacingAndGlyphs">M</tspan><tspan font-size="12.96" dy="-0.90">)</tspan></text>
<text transform="translate(639.40 674.30) rotate(0.413) scale(0.720 1)" x="3.82 11.46 19.10 26.74 32.57 42.01 49.65 57.29 64.93 72.57 81.18" y="0" font-size="16.20" font-weight="bold" text-anchor="middle"><tspan textLength="7.49" lengthAdjust="spacingAndGlyphs">2</tspan><tspan textLength="7.49" lengthAdjust="spacingAndGlyphs">5</tspan>' <tspan font-size="12.96" dy="-0.90">(</tspan><tspan dy="0.90" textLength="7.49" lengthAdjust="spacingAndGlyphs">8</tspan>.<tspan textLength="7.49" lengthAdjust="spacingAndGlyphs">2</tspan><tspan textLength="7.49" lengthAdjust="spacingAndGlyphs">0</tspan><tspan textLength="7.49" lengthAdjust="spacingAndGlyphs">M</tspan><tspan font-size="12.96" dy="-0.90">)</tspan></text>
<text transform="translate(639.80 716.10) rotate(0.413) scale(0.720 1)" x="3.82 11.46 19.10 26.74 32.57 42.01 49.65 57.29 64.93 72.57 81.18" y="0" font-size="16.20" font-weight="bold" text-anchor="middle"><tspan textLength="7.49" lengthAdjust="spacingAndGlyphs">3</tspan><tspan textLength="7.49" lengthAdjust="spacingAndGlyphs">0</tspan>' <tspan font-size="12.96" dy="-0.90">(</tspan><tspan dy="0.90" textLength="7.49" lengthAdjust="spacingAndGlyphs">9</tspan>.<tspan textLength="7.49" lengthAdjust="spacingAndGlyphs">8</tspan><tspan textLength="7.49" lengthAdjust="spacingAndGlyphs">4</tspan><tspan textLength="7.49" lengthAdjust="spacingAndGlyphs">M</tspan><tspan font-size="12.96" dy="-0.90">)</tspan></text>
<text transform="translate(639.30 748.20) rotate(0.413) scale(0.720 1)" x="3.82 11.46 19.10 26.74 32.57 42.01 49.65 57.29 64.93 72.57 80.21 88.82" y="0" font-size="16.20" font-weight="bold" text-anchor="middle"><tspan textLength="7.49" lengthAdjust="spacingAndGlyphs">3</tspan><tspan textLength="7.49" lengthAdjust="spacingAndGlyphs">5</tspan>' <tspan font-size="12.96" dy="-0.90">(</tspan><tspan dy="0.90" textLength="7.49" lengthAdjust="spacingAndGlyphs">1</tspan><tspan textLength="7.49" lengthAdjust="spacingAndGlyphs">1</tspan>.<tspan textLength="7.49" lengthAdjust="spacingAndGlyphs">4</tspan><tspan textLength="7.49" lengthAdjust="spacingAndGlyphs">8</tspan><tspan textLength="7.49" lengthAdjust="spacingAndGlyphs">M</tspan><tspan font-size="12.96" dy="-0.90">)</tspan></text>
<text transform="translate(639.30 764.90) rotate(0.413) scale(0.720 1)" x="3.82 11.46 19.10 26.74 32.57 42.01 49.65 57.29 64.93 72.57 80.21 88.82" y="0" font-size="16.20" font-weight="bold" text-anchor="middle"><tspan textLength="7.49" lengthAdjust="spacingAndGlyphs">4</tspan><tspan textLength="7.49" lengthAdjust="spacingAndGlyphs">0</tspan>' <tspan font-size="12.96" dy="-0.90">(</tspan><tspan dy="0.90" textLength="7.49" lengthAdjust="spacingAndGlyphs">1</tspan><tspan textLength="7.49" lengthAdjust="spacingAndGlyphs">3</tspan>.<tspan textLength="7.49" lengthAdjust="spacingAndGlyphs">1</tspan><tspan textLength="7.49" lengthAdjust="spacingAndGlyphs">2</tspan><tspan textLength="7.49" lengthAdjust="spacingAndGlyphs">M</tspan><tspan font-size="12.96" dy="-0.90">)</tspan></text>
<text transform="translate(639.30 779.00) rotate(0.413) scale(0.720 1)" x="3.82 11.46 19.10 26.74 32.57 42.01 49.65 57.29 64.93 72.57 80.21 88.82" y="0" font-size="16.20" font-weight="bold" text-anchor="middle"><tspan textLength="7.49" lengthAdjust="spacingAndGlyphs">4</tspan><tspan textLength="7.49" lengthAdjust="spacingAndGlyphs">5</tspan>' <tspan font-size="12.96" dy="-0.90">(</tspan><tspan dy="0.90" textLength="7.49" lengthAdjust="spacingAndGlyphs">1</tspan><tspan textLength="7.49" lengthAdjust="spacingAndGlyphs">4</tspan>.<tspan textLength="7.49" lengthAdjust="spacingAndGlyphs">7</tspan><tspan textLength="7.49" lengthAdjust="spacingAndGlyphs">6</tspan><tspan textLength="7.49" lengthAdjust="spacingAndGlyphs">M</tspan><tspan font-size="12.96" dy="-0.90">)</tspan></text>
<text transform="translate(639.30 792.60) rotate(0.413) scale(0.720 1)" x="3.82 11.46 19.10 26.74 32.57 42.01 49.65 57.29 64.93 72.57 80.21 88.82" y="0" font-size="16.20" font-weight="bold" text-anchor="middle"><tspan textLength="7.49" lengthAdjust="spacingAndGlyphs">5</tspan><tspan textLength="7.49" lengthAdjust="spacingAndGlyphs">0</tspan>' <tspan font-size="12.96" dy="-0.90">(</tspan><tspan dy="0.90" textLength="7.49" lengthAdjust="spacingAndGlyphs">1</tspan><tspan textLength="7.49" lengthAdjust="spacingAndGlyphs">6</tspan>.<tspan textLength="7.49" lengthAdjust="spacingAndGlyphs">4</tspan><tspan textLength="7.49" lengthAdjust="spacingAndGlyphs">0</tspan><tspan textLength="7.49" lengthAdjust="spacingAndGlyphs">M</tspan><tspan font-size="12.96" dy="-0.90">)</tspan></text>
<text transform="translate(639.30 805.90) rotate(0.413) scale(0.720 1)" x="3.82 11.46 19.10 26.74 32.57 42.01 49.65 57.29 64.93 72.57 80.21 88.82" y="0" font-size="16.20" font-weight="bold" text-anchor="middle"><tspan textLength="7.49" lengthAdjust="spacingAndGlyphs">5</tspan><tspan textLength="7.49" lengthAdjust="spacingAndGlyphs">5</tspan>' <tspan font-size="12.96" dy="-0.90">(</tspan><tspan dy="0.90" textLength="7.49" lengthAdjust="spacingAndGlyphs">1</tspan><tspan textLength="7.49" lengthAdjust="spacingAndGlyphs">8</tspan>.<tspan textLength="7.49" lengthAdjust="spacingAndGlyphs">0</tspan><tspan textLength="7.49" lengthAdjust="spacingAndGlyphs">4</tspan><tspan textLength="7.49" lengthAdjust="spacingAndGlyphs">M</tspan><tspan font-size="12.96" dy="-0.90">)</tspan></text>
<text transform="translate(639.00 819.90) rotate(0.413) scale(0.720 1)" x="3.82 11.46 19.10 26.74 32.57 42.01 49.65 57.29 64.93 72.57 80.21 88.82" y="0" font-size="16.20" font-weight="bold" text-anchor="middle"><tspan textLength="7.49" lengthAdjust="spacingAndGlyphs">6</tspan><tspan textLength="7.49" lengthAdjust="spacingAndGlyphs">0</tspan>' <tspan font-size="12.96" dy="-0.90">(</tspan><tspan dy="0.90" textLength="7.49" lengthAdjust="spacingAndGlyphs">1</tspan><tspan textLength="7.49" lengthAdjust="spacingAndGlyphs">9</tspan>.<tspan textLength="7.49" lengthAdjust="spacingAndGlyphs">6</tspan><tspan textLength="7.49" lengthAdjust="spacingAndGlyphs">8</tspan><tspan textLength="7.49" lengthAdjust="spacingAndGlyphs">M</tspan><tspan font-size="12.96" dy="-0.90">)</tspan></text>
</g>
<rect x="690.8" y="695.3" width="3.6" height="1.3" fill="#111"/>
</svg></body></html>
